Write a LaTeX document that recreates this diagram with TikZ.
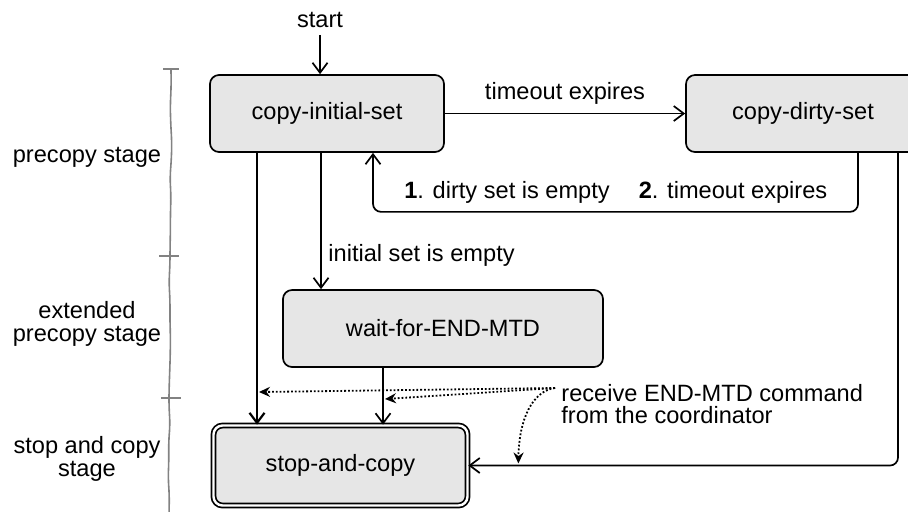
\documentclass[tikz,border=0pt]{standalone}
\usepackage{fontspec}
\setmainfont{Liberation Sans}
\usetikzlibrary{arrows.meta,decorations.pathmorphing}
\definecolor{boxgray}{RGB}{230,230,230}
\definecolor{stagegray}{RGB}{130,130,130}

\begin{document}
\begin{tikzpicture}[x=0.5pt,y=-0.5pt]
\tikzstyle{every node}=[font=\fontsize{11.8}{11.4}\selectfont]
\tikzstyle{state}=[draw,line width=0.85pt,fill=boxgray,rounded corners=4.5pt,
  minimum width=117pt,minimum height=38.5pt]
\tikzstyle{arr}=[line width=0.85pt,-{Straight Barb[length=5pt,width=7.5pt]}]
\tikzstyle{cmdarr}=[line width=0.9pt,densely dotted,-{Stealth[length=5.5pt,width=5pt]}]

\clip (0,0) rectangle (908,511);

%
% Draw the stage brackets on the left
%

\pgfmathsetseed{7}
\draw[stagegray,line width=0.8pt,decorate,
  decoration={random steps,segment length=9pt,amplitude=0.6pt},rounded corners=4pt]
  (171,69) -- (170,256) -- (169,398) -- (169,515);
\draw[stagegray,line width=0.8pt] (163,69) -- (179,69);
\draw[stagegray,line width=0.8pt] (159,256) -- (179,256);
\draw[stagegray,line width=0.8pt] (161,398) -- (181,398);

% Stage names
\node (precopy) at (87,157) {precopy stage};
\node[align=center] (extended) at (87,324) {extended\\precopy stage};
\node[align=center] (stopstage) at (87,459) {stop and copy\\stage};

%
% Draw the states
%

\node (start) at (320,20) {start};
\node[state] (init) at (327,113.5) {copy-initial-set};
\node[state] (dirty) at (803,113.5) {copy-dirty-set};
\node[state,minimum width=160pt] (wait) at (443,328.5) {wait-for-END-MTD};
\node[state,double,double distance=1.2pt,minimum width=127pt,minimum height=40pt]
  (stop) at (340.5,465.5) {stop-and-copy};

%
% Draw the transitions of the precopy stage
%

\draw[arr] (start) -- (start |- init.north);
\draw[arr] (init) -- node[above=1pt] (tmo) {timeout expires} (dirty);

% Loop back from the dirty set
\draw[arr,rounded corners=4pt] ([xshift=27.5pt]dirty.south) -- ++(0,59)
  -| ([xshift=23pt]init.south);
\node (empty) at (507,192) {\textbf{1}. dirty set is empty};
\node (again) at (733,192) {\textbf{2}. timeout expires};

% Down to the waiting state
\draw[arr] ([xshift=-3pt]init.south) -- ([xshift=-3pt]init.south |- wait.north);
\node[anchor=west,inner sep=1pt] (isempty) at (326,255) {initial set is empty};

%
% Draw the transitions into stop-and-copy
%

\draw[arr,line width=1.1pt] ([xshift=-35pt]init.south)
  -- ([xshift=-35pt]init.south |- stop.north);
\draw[arr] ([xshift=-30pt]wait.south) -- ([xshift=-30pt]wait.south |- stop.north);
\draw[arr,rounded corners=4pt] ([xshift=47.5pt]dirty.south) |- (stop.east);

% The command from the coordinator
\node[align=left,anchor=west,inner sep=1pt] (recv) at (559,404)
  {receive END-MTD command\\from the coordinator};
\coordinate (cmd) at (555,388);
\draw[cmdarr] (cmd) -- ([xshift=-34pt]init.south |- 0,392);
\draw[cmdarr] (cmd) -- ([xshift=-29pt]wait.south |- 0,399);
\draw[cmdarr] (cmd) .. controls (532,391) and (519,420) .. ([xshift=25pt,yshift=1pt]stop.east);

\end{tikzpicture}
\end{document}
